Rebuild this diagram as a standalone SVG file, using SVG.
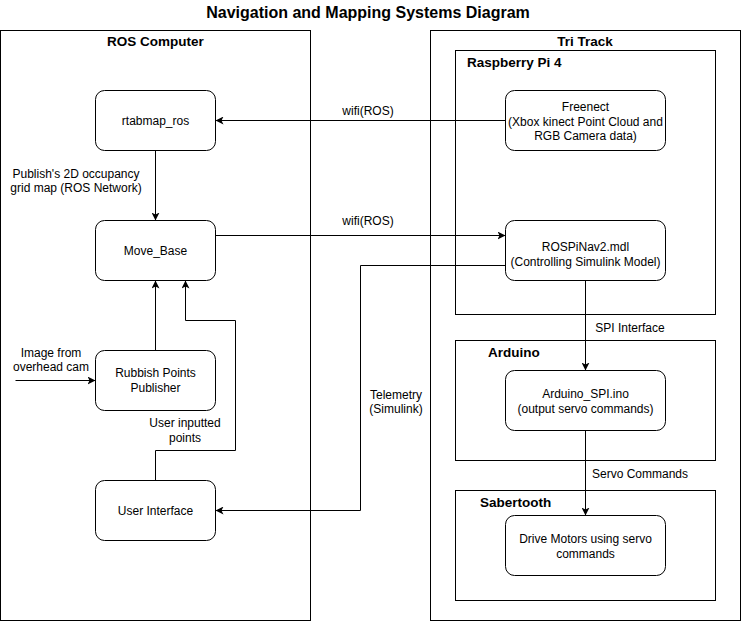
<svg xmlns="http://www.w3.org/2000/svg" width="741" height="621" viewBox="0 0 741 621">
<style>
.c{fill:none;stroke:#000;stroke-width:1}
.n{fill:#fff;stroke:#000;stroke-width:1}
.t{font-family:"Liberation Sans",Arial,sans-serif;font-size:12px;fill:#000;text-anchor:middle}
.h{font-family:"Liberation Sans",Arial,sans-serif;font-size:13.5px;font-weight:bold;fill:#000}
.e{fill:none;stroke:#000;stroke-width:1}
</style>
<defs>
<marker id="a" viewBox="0 0 8 8" markerWidth="8" markerHeight="8" refX="8" refY="4" orient="auto" markerUnits="userSpaceOnUse">
<path d="M0,0 L8,4 L0,8 L2,4 Z" fill="#000"/>
</marker>
</defs>
<rect width="741" height="621" fill="#fff"/>
<text x="368" y="17.5" font-family="Liberation Sans,Arial,sans-serif" font-size="16" font-weight="bold" text-anchor="middle">Navigation and Mapping Systems Diagram</text>

<g id="ros-computer">
<rect class="c" x="0.5" y="30.5" width="310" height="590"/>
<text class="h" x="155.5" y="46" text-anchor="middle">ROS Computer</text>
</g>
<g id="tri-track">
<rect class="c" x="430.5" y="30.5" width="310" height="590"/>
<text class="h" x="585" y="46" text-anchor="middle">Tri Track</text>
</g>
<g id="raspberry-pi">
<rect class="c" x="455.5" y="50.5" width="260" height="264"/>
<text class="h" x="467" y="66.5">Raspberry Pi 4</text>
</g>
<g id="arduino">
<rect class="c" x="455.5" y="340.5" width="260" height="120"/>
<text class="h" x="488" y="357">Arduino</text>
</g>
<g id="sabertooth">
<rect class="c" x="455.5" y="490.5" width="260" height="110"/>
<text class="h" x="480" y="507">Sabertooth</text>
</g>

<g id="connectors">
<path class="e" d="M505.5,120.5 H215.5" marker-end="url(#a)"/>
<path class="e" d="M155.5,150.5 V220.5" marker-end="url(#a)"/>
<path class="e" d="M215.5,235.5 H505.5" marker-end="url(#a)"/>
<path class="e" d="M505.5,265.5 H360.5 V510.5 H215.5" marker-end="url(#a)"/>
<path class="e" d="M155.5,350.5 V280.5" marker-end="url(#a)"/>
<path class="e" d="M155.5,480.5 V450.5 H235.5 V320.5 H185.5 V280.5" marker-end="url(#a)"/>
<path class="e" d="M15.5,380.5 H95.5" marker-end="url(#a)"/>
<path class="e" d="M585.5,280.5 V370.5" marker-end="url(#a)"/>
<path class="e" d="M585.5,430.5 V515.5" marker-end="url(#a)"/>
<text class="t" x="368" y="115">wifi(ROS)</text>
<text class="t" x="368" y="225">wifi(ROS)</text>
<text class="t" x="76" y="178">Publish's 2D occupancy</text>
<text class="t" x="76" y="192">grid map (ROS Network)</text>
<text class="t" x="51" y="357">Image from</text>
<text class="t" x="51" y="371">overhead cam</text>
<text class="t" x="185" y="427">User inputted</text>
<text class="t" x="185" y="442">points</text>
<text class="t" x="396" y="399">Telemetry</text>
<text class="t" x="396" y="413">(Simulink)</text>
<text class="t" x="630" y="332">SPI Interface</text>
<text class="t" x="640" y="478">Servo Commands</text>
</g>

<g id="rtabmap_ros">
<rect class="n" x="95.5" y="90.5" width="120" height="60" rx="9"/>
<text class="t" x="155.5" y="124.5">rtabmap_ros</text>
</g>
<g id="move_base">
<rect class="n" x="95.5" y="220.5" width="120" height="60" rx="9"/>
<text class="t" x="155.5" y="254.5">Move_Base</text>
</g>
<g id="rubbish_points">
<rect class="n" x="95.5" y="350.5" width="120" height="60" rx="9"/>
<text class="t" x="155.5" y="377">Rubbish Points</text>
<text class="t" x="155.5" y="392">Publisher</text>
</g>
<g id="user_interface">
<rect class="n" x="95.5" y="480.5" width="120" height="60" rx="9"/>
<text class="t" x="155.5" y="514.5">User Interface</text>
</g>
<g id="freenect">
<rect class="n" x="505.5" y="90.5" width="160" height="60" rx="9"/>
<text class="t" x="585.5" y="111">Freenect</text>
<text class="t" x="585.5" y="125.5">(Xbox kinect Point Cloud and</text>
<text class="t" x="585.5" y="140">RGB Camera data)</text>
</g>
<g id="rospinav2">
<rect class="n" x="505.5" y="220.5" width="160" height="60" rx="9"/>
<text class="t" x="585.5" y="251">ROSPiNav2.mdl</text>
<text class="t" x="585.5" y="266">(Controlling Simulink Model)</text>
</g>
<g id="arduino_spi">
<rect class="n" x="505.5" y="370.5" width="160" height="60" rx="9"/>
<text class="t" x="585.5" y="398">Arduino_SPI.ino</text>
<text class="t" x="585.5" y="413">(output servo commands)</text>
</g>
<g id="drive_motors">
<rect class="n" x="505.5" y="515.5" width="160" height="60" rx="9"/>
<text class="t" x="585.5" y="543">Drive Motors using servo</text>
<text class="t" x="585.5" y="557.5">commands</text>
</g>
</svg>
